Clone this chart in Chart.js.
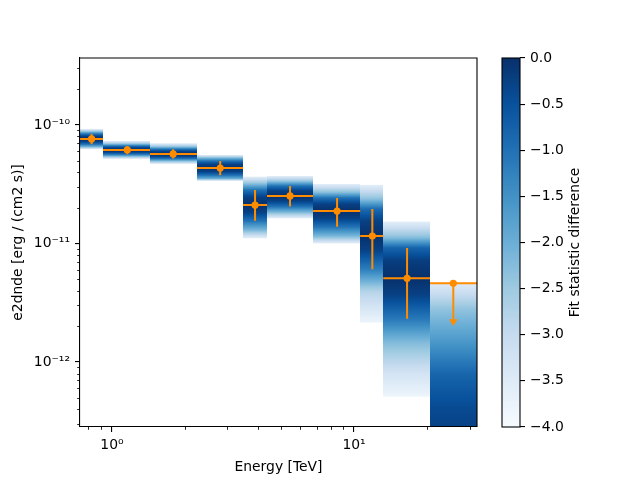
<!DOCTYPE html>
<html><head><meta charset="utf-8">
<script src="https://cdn.jsdelivr.net/npm/chart.js@4/dist/chart.umd.min.js"></script>
<style>
html,body{margin:0;padding:0;background:#fff;}
#wrap{position:relative;width:640px;height:480px;}
canvas{position:absolute;left:0;top:0;}
</style>
</head><body>
<div id="wrap"><canvas id="main" width="640" height="480"></canvas><canvas id="cbar" width="640" height="480"></canvas></div>
<script>
// ---------------- data ----------------
const energyEdges   = [0.738, 0.918, 1.436, 2.245, 3.48, 4.37, 6.77, 10.6, 13.2, 20.6, 32.2];
const energyCenters = [0.824, 1.157, 1.79, 2.80, 3.90, 5.44, 8.51, 11.9, 16.56, 25.7];
const fluxValue   = [7.62e-11, 6.15e-11, 5.69e-11, 4.33e-11, 2.11e-11, 2.52e-11, 1.88e-11, 1.156e-11, 5.08e-12, null];
const fluxErrHigh = [8.39e-11, 6.65e-11, 6.24e-11, 4.97e-11, 2.82e-11, 3.05e-11, 2.42e-11, 1.95e-11, 9.16e-12, null];
const fluxErrLow  = [6.87e-11, 5.66e-11, 5.20e-11, 3.76e-11, 1.556e-11, 2.05e-11, 1.387e-11, 6.05e-12, 2.32e-12, null];
const fluxUL      = [null, null, null, null, null, null, null, null, null, 4.61e-12];
const ulArrowEnd  = [null, null, null, null, null, null, null, null, null, 2.3e-12];

// likelihood profile scan: flux levels (top to bottom) and fit statistic difference
const scanFlux = [
  [9.25e-11, 8.78e-11, 8.39e-11, 8.0e-11, 7.62e-11, 7.25e-11, 6.87e-11, 6.5e-11, 6.24e-11],
  [7.33e-11, 6.9e-11, 6.65e-11, 6.4e-11, 6.15e-11, 5.9e-11, 5.66e-11, 5.42e-11, 5.17e-11],
  [7.01e-11, 6.52e-11, 6.24e-11, 5.96e-11, 5.69e-11, 5.44e-11, 5.20e-11, 4.96e-11, 4.69e-11],
  [5.58e-11, 5.29e-11, 4.97e-11, 4.65e-11, 4.33e-11, 4.04e-11, 3.76e-11, 3.52e-11, 3.37e-11],
  [3.66e-11, 3.18e-11, 2.82e-11, 2.46e-11, 2.11e-11, 1.83e-11, 1.556e-11, 1.28e-11, 1.107e-11],
  [3.71e-11, 3.32e-11, 3.05e-11, 2.78e-11, 2.52e-11, 2.28e-11, 2.05e-11, 1.82e-11, 1.63e-11],
  [3.18e-11, 2.69e-11, 2.42e-11, 2.15e-11, 1.88e-11, 1.63e-11, 1.387e-11, 1.14e-11, 1.0e-11],
  [3.12e-11, 2.35e-11, 1.95e-11, 1.55e-11, 1.156e-11, 8.8e-12, 6.05e-12, 3.9e-12, 2.15e-12],
  [1.53e-11, 1.12e-11, 9.16e-12, 7.12e-12, 5.08e-12, 3.7e-12, 2.32e-12, 1.48e-12, 7.8e-13, 5.1e-13],
  [4.61e-12, 2.84e-12, 1.48e-12, 7.76e-13, 4.1e-13, 2.0e-13]
];
const scanTS = [
  [-3.6, -2.25, -1, -0.25, 0, -0.25, -1, -2.25, -3.6],
  [-3.6, -2.25, -1, -0.25, 0, -0.25, -1, -2.25, -3.6],
  [-3.6, -2.25, -1, -0.25, 0, -0.25, -1, -2.25, -3.6],
  [-3.6, -2.25, -1, -0.25, 0, -0.25, -1, -2.0, -3.6],
  [-3.6, -2.25, -1, -0.25, 0, -0.25, -1, -2.25, -3.6],
  [-3.6, -2.25, -1, -0.25, 0, -0.25, -1, -2.25, -3.6],
  [-3.6, -2.25, -1, -0.25, 0, -0.25, -1, -2.25, -3.6],
  [-3.6, -2.25, -0.9, -0.25, 0, -0.25, -1.2, -2.8, -3.8],
  [-3.6, -2.25, -0.8, -0.2, 0, -0.25, -1.1, -2.2, -3.3, -3.8],
  [-3.5, -2.4, -1.6, -0.8, -0.4, -0.15]
];

const xTickValues = [1, 10];
const xTickLabels = ['10\u2070', '10\u00B9'];
const yTickValues = [1e-12, 1e-11, 1e-10];
const yTickLabels = ['10\u207B\u00B9\u00B2', '10\u207B\u00B9\u00B9', '10\u207B\u00B9\u2070'];
const cbTickValues = [-4, -3.5, -3, -2.5, -2, -1.5, -1, -0.5, 0];
const xLimits = [0.738, 32.2];
const yLimits = [2.83e-13, 3.67e-10];
const cbLimits = [-4, 0];

// ---------------- styles ----------------
const ORANGE = '#ff8c00';
const FONT = 'DejaVu Sans';
const FS = 13.9;
Chart.defaults.font.family = FONT;
Chart.defaults.font.size = FS;
Chart.defaults.color = '#000';

const BLUES = [[247,251,255],[222,235,247],[198,219,239],[158,202,225],[107,174,214],[66,146,198],[33,113,181],[8,81,156],[8,48,107]];
function bluesColor(v) {
  let t = (v - cbLimits[0]) / (cbLimits[1] - cbLimits[0]);
  t = Math.max(0, Math.min(1, t));
  const p = t * (BLUES.length - 1);
  const i = Math.min(BLUES.length - 2, Math.floor(p));
  const f = p - i;
  const a = BLUES[i], b = BLUES[i + 1];
  return 'rgb(' + [0,1,2].map(k => Math.round(a[k] + (b[k] - a[k]) * f)).join(',') + ')';
}

// ---------------- datasets built from the arrays ----------------
const hbarData = [], vbarData = [], pointData = [], arrowData = [];
for (let i = 0; i < energyCenters.length; i++) {
  const level = fluxValue[i] !== null ? fluxValue[i] : fluxUL[i];
  hbarData.push({x: energyEdges[i], y: level}, {x: energyEdges[i + 1], y: level}, {x: energyEdges[i + 1], y: null});
  if (fluxValue[i] !== null) {
    vbarData.push({x: energyCenters[i], y: fluxErrHigh[i]}, {x: energyCenters[i], y: fluxErrLow[i]}, {x: energyCenters[i], y: null});
  } else {
    vbarData.push({x: energyCenters[i], y: fluxUL[i]}, {x: energyCenters[i], y: ulArrowEnd[i]}, {x: energyCenters[i], y: null});
    arrowData.push({x: energyCenters[i], y: ulArrowEnd[i]});
  }
  pointData.push({x: energyCenters[i], y: level});
}

// arrow head marker (base at the point, tip below)
const arrowImg = document.createElement('canvas');
arrowImg.width = 9; arrowImg.height = 14;
(function () {
  const c = arrowImg.getContext('2d');
  c.fillStyle = ORANGE;
  c.beginPath(); c.moveTo(0.3, 7); c.lineTo(8.7, 7); c.lineTo(4.5, 13.8); c.closePath(); c.fill();
})();

// ---------------- plugins ----------------
const heatmapPlugin = {
  id: 'heatmap',
  beforeDatasetsDraw(chart) {
    const {ctx, chartArea: ca, scales: {x: xs, y: ys}} = chart;
    ctx.save();
    ctx.beginPath(); ctx.rect(ca.left, ca.top, ca.right - ca.left, ca.bottom - ca.top); ctx.clip();
    for (let i = 0; i < scanFlux.length; i++) {
      const x0 = Math.round(xs.getPixelForValue(energyEdges[i]));
      const x1 = Math.round(xs.getPixelForValue(energyEdges[i + 1]));
      const py = scanFlux[i].map(f => ys.getPixelForValue(f));
      const ts = scanTS[i];
      const yTop = Math.min(...py), yBot = Math.max(...py);
      const g = ctx.createLinearGradient(0, yTop, 0, yBot);
      const SUB = 10;
      for (let k = 0; k < py.length - 1; k++) {
        for (let s = 0; s <= SUB; s++) {
          const fr = s / SUB;
          const p = py[k] + (py[k + 1] - py[k]) * fr;
          const v = ts[k] + (ts[k + 1] - ts[k]) * fr;
          g.addColorStop(Math.max(0, Math.min(1, (p - yTop) / (yBot - yTop))), bluesColor(v));
        }
      }
      ctx.fillStyle = g;
      ctx.fillRect(x0, yTop, x1 - x0, yBot - yTop);
    }
    ctx.restore();
  }
};

function minorValues(lo, hi) {
  const out = [];
  for (let e = Math.floor(Math.log10(lo)) - 1; e <= Math.ceil(Math.log10(hi)); e++) {
    for (let m = 2; m <= 9; m++) {
      const v = m * Math.pow(10, e);
      if (v >= lo && v <= hi) out.push(v);
    }
  }
  return out;
}

const framePlugin = {
  id: 'frame',
  afterDraw(chart) {
    const {ctx, chartArea: ca, scales: {x: xs, y: ys}} = chart;
    ctx.save();
    ctx.strokeStyle = '#000';
    ctx.lineWidth = 1.1;
    ctx.beginPath();
    ctx.moveTo(ca.left, ca.top); ctx.lineTo(ca.right, ca.top); ctx.lineTo(ca.right, ca.bottom);
    ctx.stroke();
    ctx.lineWidth = 0.85;
    ctx.beginPath();
    minorValues(xLimits[0], xLimits[1]).forEach(v => {
      const px = Math.round(xs.getPixelForValue(v)) + 0.5;
      ctx.moveTo(px, ca.bottom); ctx.lineTo(px, ca.bottom + 2.8);
    });
    minorValues(yLimits[0], yLimits[1]).forEach(v => {
      const py = Math.round(ys.getPixelForValue(v)) + 0.5;
      ctx.moveTo(ca.left, py); ctx.lineTo(ca.left - 2.8, py);
    });
    ctx.stroke();
    ctx.restore();
  }
};

// ---------------- main chart ----------------
new Chart(document.getElementById('main'), {
  type: 'scatter',
  data: {
    datasets: [
      {label: 'bins', type: 'line', data: hbarData, borderColor: ORANGE, borderWidth: 2, pointRadius: 0, spanGaps: false, fill: false, borderCapStyle: 'butt'},
      {label: 'errors', type: 'line', data: vbarData, borderColor: ORANGE, borderWidth: 2, pointRadius: 0, spanGaps: false, fill: false, borderCapStyle: 'butt'},
      {label: 'points', data: pointData, pointRadius: 3.6, pointBackgroundColor: ORANGE, pointBorderWidth: 0, pointHoverRadius: 3.6},
      {label: 'upper limits', data: arrowData, pointStyle: arrowImg, pointRadius: 5}
    ]
  },
  options: {
    responsive: false, animation: false, devicePixelRatio: 1,
    layout: {padding: {top: 58, right: 163, left: 0, bottom: 0}},
    plugins: {legend: {display: false}, tooltip: {enabled: false}},
    scales: {
      x: {
        type: 'logarithmic', position: 'bottom', bounds: 'data', min: xLimits[0], max: xLimits[1],
        afterFit: s => { s.height = 53; },
        afterBuildTicks: s => { s.ticks = xTickValues.map(v => ({value: v})); },
        ticks: {autoSkip: false, maxRotation: 0, padding: 5, color: '#000', font: {size: FS},
                callback: (v, i) => xTickLabels[i]},
        grid: {display: true, drawOnChartArea: false, drawTicks: true, tickLength: 5, color: '#000', lineWidth: 1.1},
        border: {display: true, color: '#000', width: 1.1, z: 1},
        title: {display: true, text: 'Energy [TeV]', color: '#000', font: {size: FS}, padding: {top: 0, bottom: 4.6}}
      },
      y: {
        type: 'logarithmic', position: 'left', bounds: 'data', min: yLimits[0], max: yLimits[1],
        afterFit: s => { s.width = 80; },
        afterBuildTicks: s => { s.ticks = yTickValues.map(v => ({value: v})); },
        ticks: {autoSkip: false, padding: 5, color: '#000', font: {size: FS},
                callback: (v, i) => yTickLabels[i]},
        grid: {display: true, drawOnChartArea: false, drawTicks: true, tickLength: 5, color: '#000', lineWidth: 1.1},
        border: {display: true, color: '#000', width: 1.1, z: 1},
        title: {display: true, text: 'e2dnde [erg / (cm2 s)]', color: '#000', font: {size: FS}, padding: {top: 10, bottom: 0}}
      }
    }
  },
  plugins: [heatmapPlugin, framePlugin]
});

// ---------------- colorbar ----------------
const cbPlugin = {
  id: 'colorbar',
  beforeDatasetsDraw(chart) {
    const {ctx, chartArea: ca, scales: {y: ys}} = chart;
    const g = ctx.createLinearGradient(0, ys.getPixelForValue(cbLimits[0]), 0, ys.getPixelForValue(cbLimits[1]));
    const N = 32;
    for (let k = 0; k <= N; k++) {
      const v = cbLimits[0] + (cbLimits[1] - cbLimits[0]) * k / N;
      g.addColorStop(k / N, bluesColor(v));
    }
    ctx.save();
    ctx.fillStyle = g;
    ctx.fillRect(ca.left, ca.top, ca.right - ca.left, ca.bottom - ca.top);
    ctx.restore();
  },
  afterDraw(chart) {
    const {ctx, chartArea: ca} = chart;
    ctx.save();
    ctx.strokeStyle = '#000'; ctx.lineWidth = 1.1;
    ctx.strokeRect(ca.left, ca.top, ca.right - ca.left, ca.bottom - ca.top);
    ctx.translate(575, (ca.top + ca.bottom) / 2);
    ctx.rotate(-Math.PI / 2);
    ctx.fillStyle = '#000';
    ctx.font = FS + 'px "' + FONT + '"';
    ctx.textAlign = 'center'; ctx.textBaseline = 'middle';
    ctx.fillText('Fit statistic difference', 0, 0);
    ctx.restore();
  }
};

new Chart(document.getElementById('cbar'), {
  type: 'scatter',
  data: {datasets: []},
  options: {
    responsive: false, animation: false, devicePixelRatio: 1,
    layout: {padding: {top: 58, left: 502, bottom: 53, right: 0}},
    plugins: {legend: {display: false}, tooltip: {enabled: false}},
    scales: {
      x: {type: 'linear', display: false, min: 0, max: 1},
      y: {
        type: 'linear', position: 'right', min: cbLimits[0], max: cbLimits[1],
        afterFit: s => { s.width = 120; },
        afterBuildTicks: s => { s.ticks = cbTickValues.map(v => ({value: v})); },
        ticks: {autoSkip: false, padding: 5, color: '#000', font: {size: FS},
                callback: v => (v < 0 ? '\u2212' : '') + Math.abs(v).toFixed(1)},
        grid: {display: true, drawOnChartArea: false, drawTicks: true, tickLength: 5, color: '#000', lineWidth: 1.1},
        border: {display: false}
      }
    }
  },
  plugins: [cbPlugin]
});
</script>
</body></html>
